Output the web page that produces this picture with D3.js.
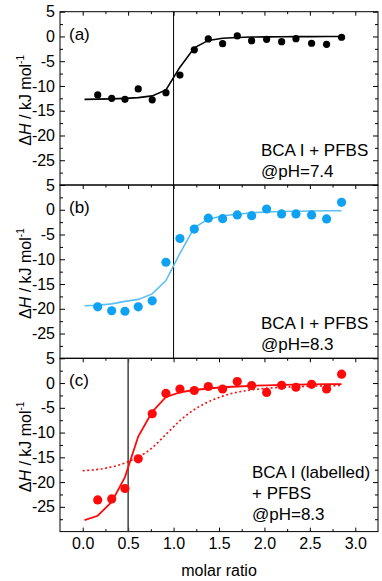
<!DOCTYPE html>
<html>
<head>
<meta charset="utf-8">
<script src="https://cdn.jsdelivr.net/npm/d3@7"></script>
<style>
  body { margin: 0; background: #fff; }
  svg { display: block; font-family: "Liberation Sans", Arial, sans-serif; }
</style>
</head>
<body>
<svg id="chart" width="382" height="581"></svg>
<script>
// molar ratio of each injection (shared by all three titrations)
var molarRatio = [0.165, 0.319, 0.465, 0.611, 0.765, 0.916, 1.070, 1.228, 1.382,
                  1.540, 1.701, 1.859, 2.024, 2.189, 2.347, 2.519, 2.684, 2.849];

// measured heats, kJ/mol
var dHa = [-11.8, -12.5, -12.7, -10.6, -12.8, -11.35, -7.8, -2.7, -0.5,
           -1.45, 0.1, -0.85, -0.57, -1.05, -0.45, -1.37, -1.58, -0.16];
var dHb = [-19.6, -20.4, -20.5, -19.6, -18.4, -10.6, -5.8, -3.9, -1.7,
           -1.8, -1.05, -1.2, 0.15, -0.85, -0.85, -1.05, -1.85, 1.5];
var dHc = [-23.6, -23.4, -21.3, -15.3, -6.2, -2.1, -1.2, -1.5, -0.7,
           -1.2, 0.3, -0.5, -1.9, -0.45, -0.85, -0.25, -1.2, 1.8];

// fitted curves
var fitX = [0.02, 0.165, 0.319, 0.465, 0.611, 0.765, 0.916, 1.070, 1.228, 1.382,
            1.540, 1.701, 1.859, 2.024, 2.189, 2.347, 2.519, 2.684, 2.849];
var fitA = [-12.7, -12.65, -12.6, -12.5, -12.35, -12.0, -10.8, -6.2, -2.3, -0.8,
            -0.35, -0.2, -0.12, -0.08, -0.05, -0.04, -0.03, -0.02, -0.02];
var fitB = [-19.4, -19.3, -19.0, -18.5, -18.1, -17.0, -14.3, -8.8, -3.6, -1.9,
            -1.2, -0.9, -0.6, -0.45, -0.35, -0.3, -0.25, -0.2, -0.2];
var fitC = [-27.7, -26.8, -24.0, -19.0, -10.8, -5.8, -2.8, -1.9, -1.4, -1.1,
            -0.85, -0.7, -0.55, -0.45, -0.35, -0.3, -0.25, -0.2, -0.2];

// dotted curve in panel (c)
var dotX = [0.0, 0.25, 0.5, 0.75, 0.92, 1.07, 1.25, 1.43, 1.62, 1.81, 2.03, 2.4, 2.85];
var dotC = [-17.7, -17.2, -15.9, -13.3, -10.3, -7.6, -5.1, -3.4, -2.2, -1.5, -1.05, -0.7, -0.5];

var yTicks = [5, 0, -5, -10, -15, -20, -25];
var xTicks = [0, 0.5, 1.0, 1.5, 2.0, 2.5, 3.0];

var panelLabels = ["(a)", "(b)", "(c)"];
var notes = [["BCA I + PFBS", "@pH=7.4"],
             ["BCA I + PFBS", "@pH=8.3"],
             ["BCA I (labelled)", "+ PFBS", "@pH=8.3"]];
var markLines = [1.0, 1.0, 0.5];

var plotLeft = 60, plotRight = 378, plotTop = 11.7, panelH = 173.3;

var svg = d3.select("#chart");
var x = d3.scaleLinear().domain([-0.25, 3.25]).range([plotLeft, plotRight]);

var yMinor = [2.5, -2.5, -7.5, -12.5, -17.5, -22.5, -27.5];
var xMinor = [0.25, 0.75, 1.25, 1.75, 2.25, 2.75];

var panels = [
  {data: dHa, fit: fitA, dot: "#000", r: 3.6, line: "#000", lw: 1.6},
  {data: dHb, fit: fitB, dot: "#0fa2f2", r: 4.6, line: "#5cbff2", lw: 1.6},
  {data: dHc, fit: fitC, dot: "#ff0a0a", r: 4.6, line: "#ff0a0a", lw: 1.8}
];

function noDomain(a) { a.select(".domain").remove(); }
function blackText(a) {
  a.select(".domain").remove();
  a.selectAll("text").attr("font-size", 16).attr("fill", "#000");
}

panels.forEach(function(p, i) {
  var y0 = plotTop + i * panelH;
  var y = d3.scaleLinear().domain([-30, 5]).range([y0 + panelH, y0]);
  var g = svg.append("g");

  // ticks, all pointing inward
  g.append("g").attr("transform", "translate(" + plotLeft + ",0)")
    .call(d3.axisLeft(y).tickValues(yTicks).tickSize(-5).tickPadding(5)
      .tickFormat(function(d) { return String(d); }))
    .call(blackText);
  g.append("g").attr("transform", "translate(" + plotLeft + ",0)")
    .call(d3.axisLeft(y).tickValues(yMinor).tickSize(-3).tickFormat(""))
    .call(noDomain);
  g.append("g").attr("transform", "translate(" + plotRight + ",0)")
    .call(d3.axisRight(y).tickValues(yTicks).tickSize(-5).tickFormat(""))
    .call(noDomain);
  g.append("g").attr("transform", "translate(" + plotRight + ",0)")
    .call(d3.axisRight(y).tickValues(yMinor).tickSize(-3).tickFormat(""))
    .call(noDomain);
  g.append("g").attr("transform", "translate(0," + y0 + ")")
    .call(d3.axisTop(x).tickValues(xTicks).tickSize(-4).tickFormat(""))
    .call(noDomain);
  g.append("g").attr("transform", "translate(0," + y0 + ")")
    .call(d3.axisTop(x).tickValues(xMinor).tickSize(-2.5).tickFormat(""))
    .call(noDomain);

  if (i == 2) {
    var yb = y0 + panelH;
    g.append("g").attr("transform", "translate(0," + yb + ")")
      .call(d3.axisBottom(x).tickValues(xTicks).tickSize(-4).tickPadding(6)
        .tickFormat(function(d) { return d.toFixed(1); }))
      .call(blackText);
    g.append("g").attr("transform", "translate(0," + yb + ")")
      .call(d3.axisBottom(x).tickValues(xMinor).tickSize(-2.5).tickFormat(""))
      .call(noDomain);
  }

  // frame
  g.append("rect")
    .attr("x", plotLeft).attr("y", y0)
    .attr("width", plotRight - plotLeft).attr("height", panelH)
    .attr("fill", "none").attr("stroke", "#000").attr("stroke-width", 1);

  // vertical marker line
  g.append("line")
    .attr("x1", x(markLines[i])).attr("x2", x(markLines[i]))
    .attr("y1", y0).attr("y2", y0 + panelH)
    .attr("stroke", i == 2 ? "#444" : "#000")
    .attr("stroke-width", i == 2 ? 1.5 : 1);

  // dotted curve (panel c only)
  if (i == 2) {
    g.append("path")
      .datum(dotX.map(function(d, k) { return [d, dotC[k]]; }))
      .attr("d", d3.line().curve(d3.curveMonotoneX)
        .x(function(d) { return x(d[0]); })
        .y(function(d) { return y(d[1]); }))
      .attr("fill", "none").attr("stroke", p.line)
      .attr("stroke-width", 1.6).attr("stroke-dasharray", "2,2.5");
  }

  // fit
  g.append("path")
    .datum(fitX.map(function(d, k) { return [d, p.fit[k]]; }))
    .attr("d", d3.line()
      .x(function(d) { return x(d[0]); })
      .y(function(d) { return y(d[1]); }))
    .attr("fill", "none").attr("stroke", p.line).attr("stroke-width", p.lw);

  // data points
  g.selectAll("circle")
    .data(p.data)
    .enter()
    .append("circle")
    .attr("cx", function(d, k) { return x(molarRatio[k]); })
    .attr("cy", function(d) { return y(d); })
    .attr("r", p.r)
    .attr("fill", p.dot);

  // y title
  var t = g.append("text")
    .attr("transform", "translate(31," + (y0 + panelH / 2 + 2) + ") rotate(-90)")
    .attr("text-anchor", "middle")
    .attr("font-size", 16);
  t.append("tspan").text("\u0394");
  t.append("tspan").attr("font-style", "italic").text("H");
  t.append("tspan").text(" / kJ mol");
  t.append("tspan").attr("font-size", 10).attr("dy", -7).text("-1");

  // panel letter
  g.append("text")
    .attr("x", 69).attr("y", y0 + 28)
    .attr("font-size", 17)
    .text(panelLabels[i]);

  // annotation
  var nx = i == 2 ? 252 : 261;
  var ny = i == 2 ? 120 : 144;
  g.selectAll(".note")
    .data(notes[i])
    .enter()
    .append("text")
    .attr("class", "note")
    .attr("x", nx)
    .attr("y", function(d, k) { return y0 + ny + k * 21; })
    .attr("font-size", 17)
    .text(function(d) { return d; });
});

svg.append("text")
  .attr("x", (plotLeft + plotRight) / 2).attr("y", 576)
  .attr("text-anchor", "middle")
  .attr("font-size", 16)
  .text("molar ratio");
</script>
</body>
</html>
